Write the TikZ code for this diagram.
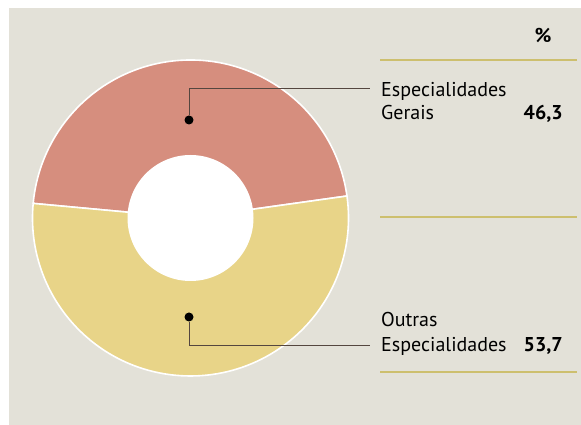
\documentclass[tikz,border=0pt]{standalone}
\usepackage{fontspec}
\setmainfont{PT Sans}
\usetikzlibrary{positioning}

\definecolor{panel}{HTML}{E3E1D8}
\definecolor{gerais}{HTML}{D68E7E}
\definecolor{outras}{HTML}{E8D488}
\definecolor{rulecol}{HTML}{CDBF6E}
\definecolor{leadcol}{HTML}{54463F}

\tikzset{
    lab/.style={anchor=base west,inner sep=0pt},
    val/.style={anchor=base east,inner sep=0pt,font=\fontsize{20}{24}\selectfont\bfseries},
    dot/.style={circle,fill=black,inner sep=0pt,minimum size=9pt},
    slice/.style={draw=white,line width=1.6pt,line join=round},
}

\begin{document}
\begin{tikzpicture}[x=1pt,y=1pt,font=\fontsize{20}{24}\selectfont]
    \useasboundingbox (0,0) rectangle (581,425);
    \fill[panel] (9,0) rectangle (581,417);

    % ring
    \coordinate (c) at (190.5,207);
    \filldraw[slice,fill=gerais] (c) -- ++(8:158) arc[start angle=8,end angle=174.7,radius=158] -- cycle;
    \filldraw[slice,fill=outras] (c) -- ++(174.7:158) arc[start angle=174.7,end angle=368,radius=158] -- cycle;
    \fill[white] (c) circle[radius=63];

    % rules
    \foreach \y in {365,208,53}
        \draw[rulecol,line width=1.5pt] (380,\y) -- (577,\y);

    \node[anchor=base,inner sep=0pt,font=\fontsize{20}{24}\selectfont\bfseries] (pct) at (543,382) {\%};

    \node[lab] (ger1) at (381,328) {Especialidades};
    \node[lab] (ger2) at (381,305) {Gerais};
    \node[val] (valGer) at (563,305) {46,3};

    \node[lab] (out1) at (381,98) {Outras};
    \node[lab] (out2) at (381,73) {Especialidades};
    \node[val] (valOut) at (563,73) {53,7};

    \node[dot] (dotGer) at (189,305) {};
    \node[dot] (dotOut) at (189,108) {};
    \coordinate (endGer) at (370,336);
    \coordinate (endOut) at (370,79);

    \foreach \from/\to in {dotGer/endGer,dotOut/endOut}
        \draw[leadcol,line width=1pt] (\from) |- (\to);
\end{tikzpicture}
\end{document}
